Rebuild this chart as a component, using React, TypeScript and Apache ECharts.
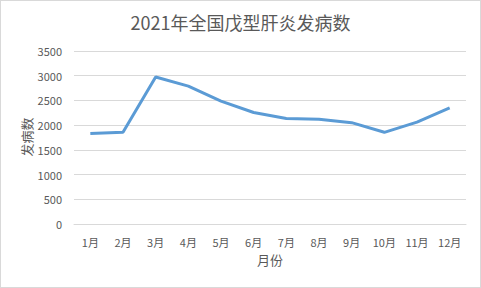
import React, { useEffect, useRef } from "react";
import * as echarts from "echarts";

const categories = ["1月", "2月", "3月", "4月", "5月", "6月", "7月", "8月", "9月", "10月", "11月", "12月"];
const cases = [1830, 1855, 2975, 2790, 2485, 2255, 2135, 2120, 2050, 1855, 2060, 2350];
const yMin = 0;
const yMax = 3500;
const yInterval = 500;

const FONT = "'Noto Sans CJK SC', 'Microsoft YaHei', sans-serif";
const TXT = "#595959";

export default function App() {
  const ref = useRef<HTMLDivElement>(null);
  useEffect(() => {
    document.body.style.margin = "0";
    const chart = echarts.init(ref.current!, null, { renderer: "svg" });
    chart.setOption({
      animation: false,
      backgroundColor: "transparent",
      title: {
        text: "2021年全国戊型肝炎发病数",
        left: "center",
        top: 8,
        textStyle: { fontFamily: FONT, fontSize: 18, fontWeight: "normal", color: TXT },
      },
      graphic: [
        {
          type: "text",
          x: 26,
          y: 137,
          rotation: Math.PI / 2,
          style: {
            text: "发病数",
            fontFamily: FONT,
            fontSize: 13,
            fill: TXT,
            align: "center",
            verticalAlign: "middle",
          },
        },
      ],
      grid: { left: 74, right: 15, top: 51, bottom: 64 },
      xAxis: {
        type: "category",
        data: categories,
        boundaryGap: true,
        name: "月份",
        nameLocation: "middle",
        nameGap: 29,
        nameTextStyle: { fontFamily: FONT, fontSize: 13, color: TXT },
        axisLine: { show: true, lineStyle: { color: "#d9d9d9" } },
        axisTick: { show: false },
        axisLabel: { fontFamily: FONT, fontSize: 11, color: TXT, margin: 12, interval: 0 },
      },
      yAxis: {
        type: "value",
        min: yMin,
        max: yMax,
        interval: yInterval,
        axisLine: { show: false },
        axisTick: { show: false },
        axisLabel: {
          fontFamily: FONT,
          fontSize: 11,
          color: TXT,
          margin: 12,
          formatter: (v: number) => String(v),
        },
        splitLine: { lineStyle: { color: "#d9d9d9", width: 1 } },
      },
      series: [
        {
          type: "line",
          data: cases,
          symbol: "none",
          lineStyle: { color: "#5b9bd5", width: 3 },
          itemStyle: { color: "#5b9bd5" },
        },
      ],
    });
    return () => chart.dispose();
  }, []);
  return (
    <div style={{ position: "relative", width: 481, height: 288, background: "#ffffff" }}>
      <div ref={ref} style={{ position: "absolute", left: 0, top: 0, width: 481, height: 288 }} />
      <div
        style={{
          position: "absolute",
          left: 0,
          top: 0,
          width: 481,
          height: 288,
          boxSizing: "border-box",
          border: "1px solid #d9d9d9",
          pointerEvents: "none",
        }}
      />
    </div>
  );
}
